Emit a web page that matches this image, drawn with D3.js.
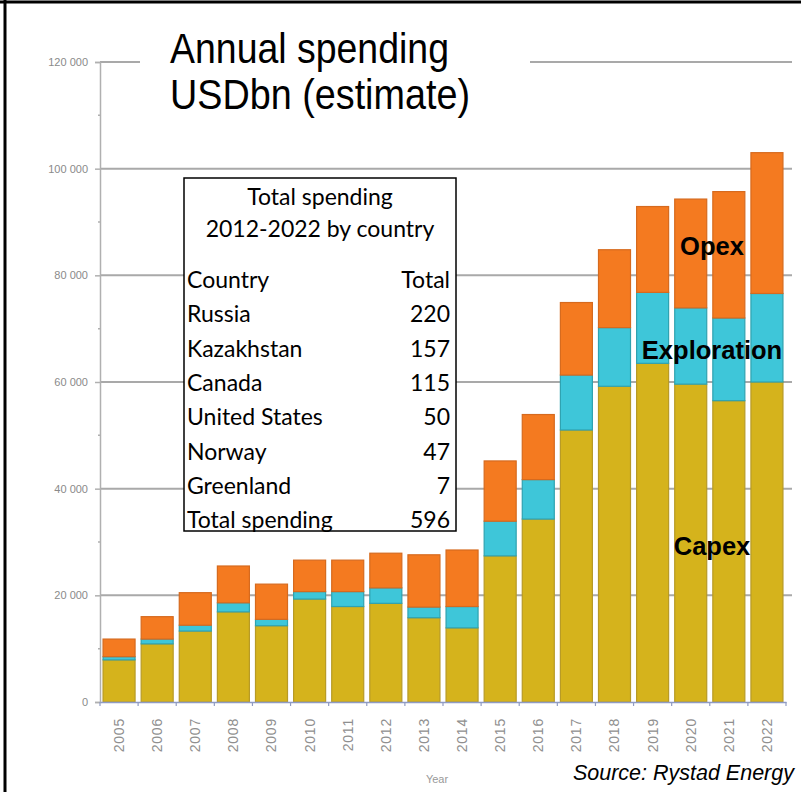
<!DOCTYPE html>
<html>
<head>
<meta charset="utf-8">
<script src="https://cdn.jsdelivr.net/npm/d3@7/dist/d3.min.js"></script>
<style>
  html, body { margin: 0; padding: 0; background: #fff; }
  svg { display: block; }
</style>
</head>
<body>
<svg id="chart" width="801" height="792"></svg>
<script>
// ---- Data (USD millions) ----
const years = ["2005","2006","2007","2008","2009","2010","2011","2012","2013","2014","2015","2016","2017","2018","2019","2020","2021","2022"];
const capex       = [7900, 10900, 13300, 16900, 14300, 19300, 17900, 18500, 15800, 13900, 27400, 34300, 51000, 59200, 63500, 59600, 56500, 60000];
const exploration = [ 600,   900,  1100,  1700,  1200,  1400,  2800,  2900,  2000,  4000,  6500,  7400, 10300, 11000, 13300, 14300, 15500, 16600];
const opex        = [3300,  4200,  6100,  6900,  6600,  5900,  5900,  6500,  9800, 10600, 11300, 12200, 13600, 14600, 16100, 20400, 23700, 26400];
const seriesNames = ["Capex", "Exploration", "Opex"];
const yTicks = [0, 20000, 40000, 60000, 80000, 100000, 120000];
const yMinorTicks = [10000, 30000, 50000, 70000, 90000, 110000];

const tableTitle = ["Total spending", "2012-2022 by country"];
const tableHeader = ["Country", "Total"];
const countries = ["Russia", "Kazakhstan", "Canada", "United States", "Norway", "Greenland", "Total spending"];
const countryTotals = [220, 157, 115, 50, 47, 7, 596];

// ---- Setup ----
const svg = d3.select("#chart");
const W = 801, H = 792;
const x0 = 100, x1 = 786, yTop = 62, yBot = 702;

const x = d3.scaleBand().domain(years).range([x0, x1]).paddingInner(0.16).paddingOuter(0.08);
const y = d3.scaleLinear().domain([0, 120000]).range([yBot, yTop]);

const fills   = { Capex: "#d5b31c", Exploration: "#3ec6d9", Opex: "#f47a20" };
const strokes = { Capex: "#b79a26", Exploration: "#2fa2b0", Opex: "#d66a1e" };

svg.append("rect").attr("width", W).attr("height", H).attr("fill", "#fff");

// gridlines
svg.append("g").selectAll("line").data(yTicks.slice(1)).join("line")
  .attr("x1", x0).attr("x2", 792)
  .attr("y1", d => y(d)).attr("y2", d => y(d))
  .attr("stroke", "#a9a9a9").attr("stroke-width", 2);

// y axis
const yAxis = d3.axisLeft(y).tickValues(yTicks).tickSize(5).tickPadding(7)
  .tickFormat(d => d3.format(",")(d).replace(/,/g, " "));
const gy = svg.append("g").attr("transform", `translate(${x0},0)`).call(yAxis);
gy.select(".domain").attr("stroke", "#b0b0b0").attr("stroke-width", 1.5);
gy.selectAll(".tick line").attr("stroke", "#b0b0b0").attr("stroke-width", 1.5);
gy.selectAll("text").attr("fill", "#8a8a8a").attr("font-size", 11)
  .attr("font-family", "Liberation Sans, Arial, sans-serif");
svg.append("g").selectAll("line").data(yMinorTicks).join("line")
  .attr("x1", x0 - 2).attr("x2", x0)
  .attr("y1", d => y(d)).attr("y2", d => y(d))
  .attr("stroke", "#b0b0b0").attr("stroke-width", 1.5);

// stacked bars
const rows = years.map((yr, i) => ({ year: yr, Capex: capex[i], Exploration: exploration[i], Opex: opex[i] }));
const stack = d3.stack().keys(seriesNames)(rows);
svg.append("g").selectAll("g").data(stack).join("g")
  .attr("fill", d => fills[d.key]).attr("stroke", d => strokes[d.key]).attr("stroke-width", 1.2)
  .selectAll("rect").data(d => d).join("rect")
  .attr("x", d => x(d.data.year))
  .attr("width", x.bandwidth())
  .attr("y", d => y(d[1]))
  .attr("height", d => y(d[0]) - y(d[1]));

// x axis
const xAxis = d3.axisBottom(x).tickSize(0).tickPadding(0);
const gx = svg.append("g").attr("transform", `translate(0,${yBot})`).call(xAxis);
gx.select(".domain").attr("stroke", "#8f9bc4").attr("stroke-width", 1.5);
gx.selectAll(".tick text")
  .attr("transform", "rotate(-90)")
  .attr("text-anchor", "end")
  .attr("x", -16).attr("y", 0).attr("dy", "0.35em")
  .attr("fill", "#8f8f8f").attr("font-size", 14).attr("letter-spacing", 0.8)
  .attr("font-family", "Liberation Sans, Arial, sans-serif");
// boundary ticks between bands
const bounds = years.map(yr => x(yr) - x.step() * x.paddingInner() / 2).concat([x(years[years.length - 1]) + x.bandwidth() + x.step() * x.paddingInner() / 2]);
svg.append("g").selectAll("line").data(bounds).join("line")
  .attr("x1", d => d).attr("x2", d => d)
  .attr("y1", yBot).attr("y2", yBot + 4)
  .attr("stroke", "#8f9bc4").attr("stroke-width", 1.2);

svg.append("text").attr("x", 437).attr("y", 783).attr("text-anchor", "middle")
  .attr("fill", "#999").attr("font-size", 11)
  .attr("font-family", "Liberation Sans, Arial, sans-serif").text("Year");

// title box
svg.append("rect").attr("x", 140).attr("y", 22).attr("width", 390).attr("height", 100).attr("fill", "#fff");
const tfam = "Liberation Sans, Arial, sans-serif";
svg.append("text").attr("font-family", tfam).attr("font-size", 42).attr("fill", "#000")
  .attr("x", 170).attr("y", 63).attr("textLength", 279).attr("lengthAdjust", "spacingAndGlyphs")
  .text("Annual spending");
svg.append("text").attr("font-family", tfam).attr("font-size", 42).attr("fill", "#000")
  .attr("x", 170).attr("y", 109).attr("textLength", 300).attr("lengthAdjust", "spacingAndGlyphs")
  .text("USDbn (estimate)");

// table
const tx0 = 184, tx1 = 456, ty0 = 178, ty1 = 531;
svg.append("rect").attr("x", tx0).attr("y", ty0).attr("width", tx1 - tx0).attr("height", ty1 - ty0)
  .attr("fill", "#fff").attr("stroke", "#000").attr("stroke-width", 1.5);
const tf = "Lato, Open Sans, sans-serif";
const tg = svg.append("g").attr("font-family", tf).attr("font-size", 23).attr("fill", "#000");
tg.selectAll("text.tt").data(tableTitle).join("text").attr("class", "tt")
  .attr("x", (tx0 + tx1) / 2).attr("y", (d, i) => 205 + i * 32)
  .attr("text-anchor", "middle").text(d => d);
const rowY = i => 288 + i * 34.3;
tg.append("text").attr("x", 187).attr("y", rowY(0)).text(tableHeader[0]);
tg.append("text").attr("x", 450).attr("y", rowY(0)).attr("text-anchor", "end").text(tableHeader[1]);
tg.selectAll("text.cn").data(countries).join("text").attr("class", "cn")
  .attr("x", 187).attr("y", (d, i) => rowY(i + 1)).text(d => d);
tg.selectAll("text.cv").data(countryTotals).join("text").attr("class", "cv")
  .attr("x", 450).attr("y", (d, i) => rowY(i + 1)).attr("text-anchor", "end").text(d => d);

// series labels
const lf = "Liberation Sans, Arial, sans-serif";
const labels = [["Opex", 712, 255], ["Exploration", 712, 359], ["Capex", 712, 555]];
svg.append("g").selectAll("text").data(labels).join("text")
  .attr("x", d => d[1]).attr("y", d => d[2]).attr("text-anchor", "middle")
  .attr("font-family", lf).attr("font-weight", "bold").attr("font-size", 25.5).attr("fill", "#000")
  .text(d => d[0]);

// source
svg.append("text").attr("x", 794).attr("y", 780).attr("text-anchor", "end")
  .attr("font-family", lf).attr("font-style", "italic").attr("font-size", 21.5).attr("fill", "#000")
  .text("Source: Rystad Energy");

// frame lines (top and left)
svg.append("line").attr("x1", 0).attr("x2", W).attr("y1", 2).attr("y2", 2).attr("stroke", "#000").attr("stroke-width", 3);
svg.append("line").attr("x1", 5).attr("x2", 5).attr("y1", 0).attr("y2", H).attr("stroke", "#000").attr("stroke-width", 3);
</script>
</body>
</html>
